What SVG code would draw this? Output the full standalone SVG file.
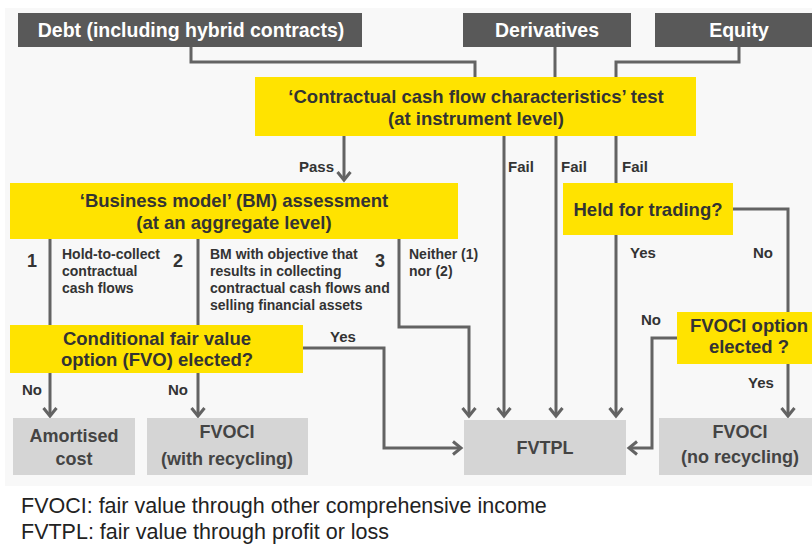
<svg xmlns="http://www.w3.org/2000/svg" width="812" height="551" viewBox="0 0 812 551">
  <style>
    text { font-family: "Liberation Sans", Arial, sans-serif; }
    .src { fill: #595959; }
    .dec { fill: #FFE300; }
    .res { fill: #d5d5d5; }
    .top { font-size: 19.5px; font-weight: bold; fill: #ffffff; text-anchor: middle; }
    .yl { font-size: 18.5px; font-weight: bold; fill: #333333; text-anchor: middle; }
    .rt { font-size: 18px; font-weight: bold; fill: #444444; text-anchor: middle; }
    .lbl { font-size: 15px; font-weight: bold; fill: #333333; }
    .sm { font-size: 14px; font-weight: bold; fill: #333333; }
    .num { font-size: 18px; font-weight: bold; fill: #333333; }
    .foot { font-size: 21.5px; fill: #222222; }
    .conn path { fill: none; stroke: #636363; stroke-width: 3; }
  </style>
  <defs>
    <marker id="arr" viewBox="-10 -10 20 20" refX="0" refY="0" markerWidth="20" markerHeight="20" markerUnits="userSpaceOnUse" orient="auto">
      <path d="M-8,-6.5 L0,0 L-8,6.5" fill="none" stroke="#636363" stroke-width="3"/>
    </marker>
  </defs>

  <rect x="5" y="8" width="807" height="478" fill="#f8f8f8"/>

  <g class="conn">
    <path d="M191,47 V62 H475 V77"/>
    <path d="M555,47 V77"/>
    <path d="M739,47 V62 H616 V77"/>
    <path d="M344,136 V180" marker-end="url(#arr)"/>
    <path d="M504,136 V416" marker-end="url(#arr)"/>
    <path d="M556,136 V416" marker-end="url(#arr)"/>
    <path d="M616,136 V183"/>
    <path d="M616,235 V416" marker-end="url(#arr)"/>
    <path d="M733,209 H788 V312"/>
    <path d="M50,239 V325"/>
    <path d="M50,373 V416" marker-end="url(#arr)"/>
    <path d="M198,239 V325"/>
    <path d="M198,373 V416" marker-end="url(#arr)"/>
    <path d="M399,239 V327 H469 V416" marker-end="url(#arr)"/>
    <path d="M303,348 H384 V448 H461" marker-end="url(#arr)"/>
    <path d="M788,364 V416" marker-end="url(#arr)"/>
    <path d="M677,338 H652 V448 H629" marker-end="url(#arr)"/>
  </g>

  <g id="debt">
    <rect class="src" x="18" y="13" width="344" height="34"/>
    <text class="top" x="191" y="37">Debt (including hybrid contracts)</text>
  </g>
  <g id="derivatives">
    <rect class="src" x="463" y="13" width="168" height="34"/>
    <text class="top" x="547" y="37">Derivatives</text>
  </g>
  <g id="equity">
    <rect class="src" x="655" y="13" width="157" height="34"/>
    <text class="top" x="739" y="37">Equity</text>
  </g>

  <g id="sppi-test">
    <rect class="dec" x="255" y="77" width="441" height="59"/>
    <text class="yl" x="476" y="103">‘Contractual cash flow characteristics’ test</text>
    <text class="yl" x="476" y="125">(at instrument level)</text>
  </g>

  <g id="bm-assessment">
    <rect class="dec" x="10" y="183" width="448" height="56"/>
    <text class="yl" x="234" y="207">‘Business model’ (BM) assessment</text>
    <text class="yl" x="234" y="229">(at an aggregate level)</text>
  </g>

  <g id="held-for-trading">
    <rect class="dec" x="563" y="183" width="170" height="52"/>
    <text class="yl" x="648" y="216">Held for trading?</text>
  </g>

  <g id="fvo">
    <rect class="dec" x="10" y="325" width="293" height="48"/>
    <text class="yl" x="157" y="345">Conditional fair value</text>
    <text class="yl" x="157" y="366">option (FVO) elected?</text>
  </g>

  <g id="fvoci-option">
    <rect class="dec" x="677" y="312" width="135" height="52"/>
    <text class="yl" x="749" y="332">FVOCI option</text>
    <text class="yl" x="749" y="353">elected ?</text>
  </g>

  <g id="amortised-cost">
    <rect class="res" x="13" y="418" width="122" height="57"/>
    <text class="rt" x="74" y="442">Amortised</text>
    <text class="rt" x="74" y="465">cost</text>
  </g>
  <g id="fvoci-recycling">
    <rect class="res" x="147" y="418" width="161" height="57"/>
    <text class="rt" x="227" y="438">FVOCI</text>
    <text class="rt" x="227" y="465">(with recycling)</text>
  </g>
  <g id="fvtpl">
    <rect class="res" x="464" y="420" width="162" height="55"/>
    <text class="rt" x="545" y="454">FVTPL</text>
  </g>
  <g id="fvoci-no-recycling">
    <rect class="res" x="659" y="418" width="153" height="57"/>
    <text class="rt" x="740" y="438">FVOCI</text>
    <text class="rt" x="740" y="463">(no recycling)</text>
  </g>

  <g id="labels">
    <text class="lbl" x="334" y="172" text-anchor="end">Pass</text>
    <text class="lbl" x="508" y="172">Fail</text>
    <text class="lbl" x="561" y="172">Fail</text>
    <text class="lbl" x="622" y="172">Fail</text>
    <text class="lbl" x="630" y="258">Yes</text>
    <text class="lbl" x="753" y="258">No</text>
    <text class="num" x="27" y="267">1</text>
    <text class="num" x="173" y="267">2</text>
    <text class="num" x="375" y="267">3</text>
    <text class="sm" x="62" y="259">Hold-to-collect</text>
    <text class="sm" x="62" y="276">contractual</text>
    <text class="sm" x="62" y="293">cash flows</text>
    <text class="sm" x="210" y="259">BM with objective that</text>
    <text class="sm" x="210" y="276">results in collecting</text>
    <text class="sm" x="210" y="293">contractual cash flows and</text>
    <text class="sm" x="210" y="310">selling financial assets</text>
    <text class="sm" x="409" y="259">Neither (1)</text>
    <text class="sm" x="409" y="276">nor  (2)</text>
    <text class="lbl" x="330" y="342">Yes</text>
    <text class="lbl" x="22" y="395">No</text>
    <text class="lbl" x="168" y="395">No</text>
    <text class="lbl" x="641" y="325">No</text>
    <text class="lbl" x="748" y="388">Yes</text>
  </g>

  <text class="foot" x="21" y="513">FVOCI: fair value through other comprehensive income</text>
  <text class="foot" x="21" y="539">FVTPL: fair value through profit or loss</text>
</svg>
